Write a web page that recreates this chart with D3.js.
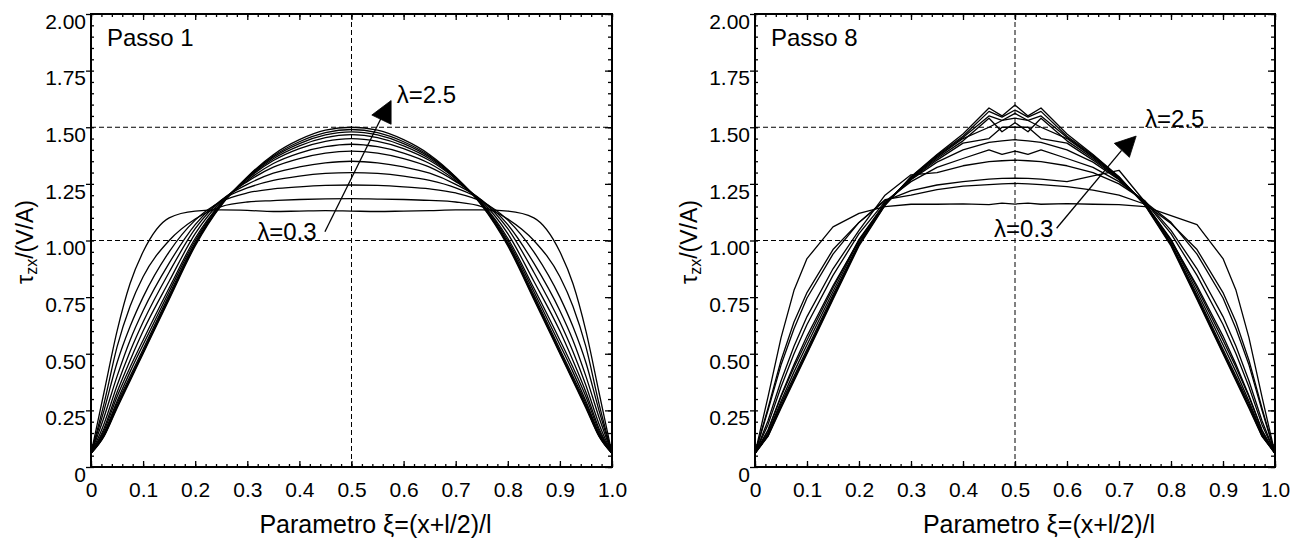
<!DOCTYPE html>
<html>
<head>
<meta charset="utf-8">
<script src="https://cdn.jsdelivr.net/npm/d3@7"></script>
<style>
html,body{margin:0;padding:0;background:#fff;}
svg{display:block;font-family:"Liberation Sans",Arial,Helvetica,sans-serif;}
</style>
</head>
<body>
<svg id="chart" width="1292" height="541"></svg>
<script>
// ---------------- DATA ----------------
const lambdas = [0.3, 0.5, 0.7, 0.9, 1.1, 1.3, 1.5, 1.7, 1.9, 2.1, 2.3, 2.5];

const xTickValues = [0, 0.1, 0.2, 0.3, 0.4, 0.5, 0.6, 0.7, 0.8, 0.9, 1.0];
const xTickLabels = ["0", "0.1", "0.2", "0.3", "0.4", "0.5", "0.6", "0.7", "0.8", "0.9", "1.0"];
const yTickValues = [0, 0.25, 0.5, 0.75, 1.0, 1.25, 1.5, 1.75, 2.0];
const yTickLabels = ["0", "0.25", "0.50", "0.75", "1.00", "1.25", "1.50", "1.75", "2.00"];

// Passo 1: positions xi along the beam
const xiPasso1 = [0, 0.025, 0.05, 0.075, 0.1, 0.15, 0.2, 0.25, 0.3, 0.35, 0.4, 0.45, 0.5,
                  0.55, 0.6, 0.65, 0.7, 0.75, 0.8, 0.85, 0.9, 0.925, 0.95, 0.975, 1];

const p1_l03 = [0.06,0.33,0.60,0.81,0.95,1.10,1.13,1.135,1.133,1.128,1.13,1.132,1.13,1.128,1.13,1.132,1.135,1.135,1.13,1.10,0.95,0.81,0.60,0.33,0.06];
const p1_l05 = [0.06,0.28,0.53,0.71,0.84,1.00,1.095,1.15,1.17,1.176,1.181,1.184,1.185,1.183,1.181,1.177,1.17,1.15,1.095,1.00,0.84,0.71,0.53,0.28,0.06];
const p1_l07 = [0.06,0.25,0.46,0.62,0.75,0.95,1.09,1.172,1.21,1.228,1.237,1.243,1.245,1.243,1.237,1.228,1.21,1.172,1.09,0.95,0.75,0.62,0.46,0.25,0.06];
const p1_l09 = [0.06,0.22,0.40,0.56,0.69,0.90,1.07,1.178,1.232,1.265,1.284,1.296,1.30,1.296,1.284,1.265,1.232,1.178,1.07,0.90,0.69,0.56,0.40,0.22,0.06];
const p1_l11 = [0.06,0.19,0.36,0.51,0.64,0.86,1.052,1.178,1.248,1.297,1.325,1.343,1.35,1.343,1.325,1.297,1.248,1.178,1.052,0.86,0.64,0.51,0.36,0.19,0.06];
const p1_l13 = [0.06,0.17,0.33,0.47,0.60,0.82,1.03,1.173,1.26,1.324,1.362,1.386,1.395,1.386,1.362,1.324,1.26,1.173,1.03,0.82,0.60,0.47,0.33,0.17,0.06];
const p1_l15 = [0.06,0.16,0.31,0.44,0.56,0.79,1.01,1.166,1.265,1.34,1.386,1.414,1.425,1.414,1.386,1.34,1.265,1.166,1.01,0.79,0.56,0.44,0.31,0.16,0.06];
const p1_l17 = [0.06,0.15,0.29,0.42,0.54,0.775,1.00,1.165,1.272,1.353,1.406,1.438,1.45,1.438,1.406,1.353,1.272,1.165,1.00,0.775,0.54,0.42,0.29,0.15,0.06];
const p1_l19 = [0.06,0.145,0.28,0.40,0.52,0.76,0.99,1.16,1.274,1.361,1.418,1.454,1.467,1.454,1.418,1.361,1.274,1.16,0.99,0.76,0.52,0.40,0.28,0.145,0.06];
const p1_l21 = [0.06,0.14,0.27,0.39,0.51,0.75,0.985,1.158,1.277,1.368,1.428,1.466,1.48,1.466,1.428,1.368,1.277,1.158,0.985,0.75,0.51,0.39,0.27,0.14,0.06];
const p1_l23 = [0.06,0.137,0.265,0.385,0.505,0.745,0.982,1.157,1.279,1.373,1.436,1.476,1.49,1.476,1.436,1.373,1.279,1.157,0.982,0.745,0.505,0.385,0.265,0.137,0.06];
const p1_l25 = [0.06,0.135,0.26,0.38,0.50,0.74,0.976,1.155,1.281,1.379,1.445,1.487,1.50,1.487,1.445,1.379,1.281,1.155,0.976,0.74,0.50,0.38,0.26,0.135,0.06];

// Passo 8
const xiPasso8 = [0, 0.025, 0.05, 0.075, 0.1, 0.15, 0.2, 0.25, 0.3, 0.35, 0.4, 0.45, 0.475, 0.5,
                  0.525, 0.55, 0.6, 0.65, 0.7, 0.75, 0.8, 0.85, 0.9, 0.925, 0.95, 0.975, 1];

const p8_l03 = [0.06,0.31,0.57,0.78,0.92,1.06,1.12,1.15,1.16,1.16,1.162,1.158,1.165,1.161,1.165,1.16,1.163,1.16,1.158,1.15,1.11,1.07,0.92,0.78,0.57,0.31,0.06];
const p8_l05 = [0.06,0.26,0.47,0.64,0.77,0.96,1.08,1.18,1.20,1.225,1.24,1.247,1.25,1.252,1.25,1.247,1.238,1.222,1.20,1.16,1.075,0.96,0.77,0.64,0.47,0.26,0.06];
const p8_l07 = [0.06,0.25,0.45,0.61,0.746,0.94,1.08,1.175,1.22,1.245,1.26,1.271,1.274,1.275,1.274,1.271,1.26,1.285,1.31,1.17,1.08,0.94,0.746,0.61,0.45,0.25,0.06];
const p8_l09 = [0.06,0.204,0.38,0.533,0.664,0.875,1.045,1.20,1.29,1.30,1.33,1.348,1.352,1.355,1.352,1.348,1.33,1.30,1.25,1.175,1.045,0.875,0.664,0.533,0.38,0.204,0.06];
const p8_l11 = [0.06,0.187,0.353,0.50,0.629,0.846,1.03,1.172,1.26,1.323,1.362,1.40,1.38,1.395,1.38,1.40,1.362,1.323,1.26,1.172,1.03,0.846,0.629,0.50,0.353,0.187,0.06];
const p8_l13 = [0.06,0.163,0.315,0.452,0.578,0.80,1.0,1.162,1.268,1.346,1.40,1.433,1.44,1.445,1.44,1.433,1.40,1.346,1.268,1.162,1.0,0.80,0.578,0.452,0.315,0.163,0.06];
const p8_l15 = [0.06,0.16,0.31,0.44,0.56,0.79,1.005,1.165,1.27,1.355,1.43,1.45,1.50,1.50,1.50,1.45,1.43,1.355,1.27,1.165,1.005,0.79,0.56,0.44,0.31,0.16,0.06];
const p8_l17 = [0.06,0.15,0.29,0.42,0.54,0.775,1.0,1.164,1.274,1.362,1.44,1.54,1.48,1.52,1.48,1.54,1.44,1.362,1.274,1.164,1.0,0.775,0.54,0.42,0.29,0.15,0.06];
const p8_l19 = [0.06,0.145,0.28,0.40,0.52,0.76,0.99,1.16,1.277,1.368,1.45,1.50,1.53,1.54,1.53,1.50,1.45,1.368,1.277,1.16,0.99,0.76,0.52,0.40,0.28,0.145,0.06];
const p8_l21 = [0.06,0.14,0.27,0.39,0.51,0.75,0.985,1.158,1.279,1.372,1.455,1.55,1.53,1.561,1.53,1.55,1.455,1.372,1.279,1.158,0.985,0.75,0.51,0.39,0.27,0.14,0.06];
const p8_l23 = [0.06,0.137,0.265,0.385,0.505,0.745,0.982,1.157,1.28,1.376,1.46,1.57,1.545,1.576,1.545,1.57,1.46,1.376,1.28,1.157,0.982,0.745,0.505,0.385,0.265,0.137,0.06];
const p8_l25 = [0.06,0.135,0.26,0.38,0.50,0.74,0.976,1.155,1.282,1.38,1.47,1.585,1.55,1.598,1.55,1.585,1.47,1.38,1.282,1.155,0.976,0.74,0.50,0.38,0.26,0.135,0.06];

const passo1Series = [p1_l03,p1_l05,p1_l07,p1_l09,p1_l11,p1_l13,p1_l15,p1_l17,p1_l19,p1_l21,p1_l23,p1_l25];
const passo8Series = [p8_l03,p8_l05,p8_l07,p8_l09,p8_l11,p8_l13,p8_l15,p8_l17,p8_l19,p8_l21,p8_l23,p8_l25];

// reference (dashed) lines
const refHorizontal = [1.0, 1.5];
const refVertical = [0.5];

// annotation anchors (data units)
const annP1 = {
  hiText: [0.587, 1.608], loText: [0.433, 1.002],
  arrowLine: [[0.449, 1.039], [0.557, 1.541]],
  arrowHead: [[0.539, 1.554], [0.576, 1.618], [0.576, 1.513]]
};
const annP8 = {
  hiText: [0.75, 1.50], loText: [0.574, 1.015],
  arrowLine: [[0.580, 1.054], [0.705, 1.398]],
  arrowHead: [[0.733, 1.461], [0.691, 1.429], [0.720, 1.367]]
};

// ---------------- DRAWING ----------------
const FONT = '"Liberation Sans", Arial, Helvetica, sans-serif';
const svg = d3.select("#chart");
svg.append("rect").attr("width", 1292).attr("height", 541).attr("fill", "#fff");

const TOP = 14, BOTTOM = 467;

function drawPanel(cfg) {
  const x = d3.scaleLinear().domain([0, 1]).range([cfg.x0, cfg.x1]);
  const y = d3.scaleLinear().domain([0, 2]).range([BOTTOM, TOP]);
  const g = svg.append("g");

  const xMinor = d3.range(0, 51).map(i => i / 50);
  const yMinor = d3.range(0, 41).map(i => i / 20);

  // dashed reference lines
  g.selectAll("line.rh").data(refHorizontal).join("line")
    .attr("x1", x(0)).attr("x2", x(1))
    .attr("y1", d => y(d)).attr("y2", d => y(d))
    .attr("stroke", "#000").attr("stroke-width", 1).attr("stroke-dasharray", "5,3");
  g.selectAll("line.rv").data(refVertical).join("line")
    .attr("x1", d => x(d)).attr("x2", d => x(d))
    .attr("y1", y(0)).attr("y2", y(2))
    .attr("stroke", "#000").attr("stroke-width", 1).attr("stroke-dasharray", "5,3");

  // curves
  const line = d3.line()
    .x((d, i) => x(cfg.xi[i]))
    .y(d => y(d))
    .curve(cfg.curve);
  g.selectAll("path.curve").data(cfg.series).join("path")
    .attr("class", "curve")
    .attr("d", line)
    .attr("fill", "none")
    .attr("stroke", "#000")
    .attr("stroke-width", 1.3)
    .attr("stroke-linejoin", "round");

  // axes
  function styleAxis(sel) {
    sel.select(".domain").remove();
    sel.selectAll("line").attr("stroke", "#000").attr("stroke-width", 1.3);
    sel.attr("font-family", FONT).attr("font-size", 21);
    sel.selectAll("text").attr("fill", "#000");
  }
  // bottom
  g.append("g").attr("transform", `translate(0,${BOTTOM})`)
    .call(d3.axisBottom(x).tickValues(xMinor).tickSize(-3).tickFormat(""))
    .call(styleAxis);
  g.append("g").attr("transform", `translate(0,${BOTTOM})`)
    .call(d3.axisBottom(x).tickValues(xTickValues).tickSizeInner(-6).tickSizeOuter(0)
      .tickPadding(15).tickFormat((d, i) => xTickLabels[i]))
    .call(styleAxis);
  // top
  g.append("g").attr("transform", `translate(0,${TOP})`)
    .call(d3.axisTop(x).tickValues(xMinor).tickSize(-3).tickFormat(""))
    .call(styleAxis);
  g.append("g").attr("transform", `translate(0,${TOP})`)
    .call(d3.axisTop(x).tickValues(xTickValues).tickSize(-6).tickFormat(""))
    .call(styleAxis);
  // left
  g.append("g").attr("transform", `translate(${cfg.x0},0)`)
    .call(d3.axisLeft(y).tickValues(yMinor).tickSize(-3).tickFormat(""))
    .call(styleAxis);
  const la = g.append("g").attr("transform", `translate(${cfg.x0},0)`)
    .call(d3.axisLeft(y).tickValues(yTickValues).tickSizeInner(5).tickSizeOuter(0)
      .tickPadding(0).tickFormat((d, i) => yTickLabels[i]))
    .call(styleAxis);
  la.selectAll("text").attr("dy", "0.68em");
  // right
  g.append("g").attr("transform", `translate(${cfg.x1},0)`)
    .call(d3.axisRight(y).tickValues(yMinor).tickSize(-4).tickFormat(""))
    .call(styleAxis);
  g.append("g").attr("transform", `translate(${cfg.x1},0)`)
    .call(d3.axisRight(y).tickValues(yTickValues).tickSize(-7).tickFormat(""))
    .call(styleAxis);

  // frame
  g.append("rect")
    .attr("x", x(0)).attr("y", y(2))
    .attr("width", x(1) - x(0)).attr("height", y(0) - y(2))
    .attr("fill", "none").attr("stroke", "#000").attr("stroke-width", 2);

  // panel title
  g.append("text").attr("x", x(0) + 16).attr("y", TOP + 32)
    .attr("font-family", FONT).attr("font-size", 24).attr("fill", "#000")
    .text(cfg.title);

  // annotations
  const a = cfg.ann;
  g.append("line")
    .attr("x1", x(a.arrowLine[0][0])).attr("y1", y(a.arrowLine[0][1]))
    .attr("x2", x(a.arrowLine[1][0])).attr("y2", y(a.arrowLine[1][1]))
    .attr("stroke", "#000").attr("stroke-width", 1.3);
  g.append("polygon")
    .attr("points", a.arrowHead.map(p => `${x(p[0])},${y(p[1])}`).join(" "))
    .attr("fill", "#000").attr("stroke", "#000").attr("stroke-width", 0.8);
  g.append("text").attr("x", x(a.hiText[0])).attr("y", y(a.hiText[1]))
    .attr("font-family", FONT).attr("font-size", 24).attr("fill", "#000")
    .text("λ=2.5");
  g.append("text").attr("x", x(a.loText[0])).attr("y", y(a.loText[1]))
    .attr("text-anchor", "end")
    .attr("font-family", FONT).attr("font-size", 24).attr("fill", "#000")
    .text("λ=0.3");

  // x axis title
  g.append("text").attr("x", (cfg.x0 + cfg.x1) / 2 + 24).attr("y", 533)
    .attr("text-anchor", "middle")
    .attr("font-family", FONT).attr("font-size", 25).attr("fill", "#000")
    .text("Parametro ξ=(x+l/2)/l");

  // y axis title
  const yt = g.append("text")
    .attr("transform", `translate(${cfg.x0 - 58},242) rotate(-90)`)
    .attr("text-anchor", "middle")
    .attr("font-family", FONT).attr("font-size", 23).attr("fill", "#000");
  yt.append("tspan").text("τ");
  yt.append("tspan").attr("font-size", 16).attr("dy", 4).text("zx");
  yt.append("tspan").attr("dy", -4).text("/(V/A)");
}

drawPanel({ x0: 91, x1: 612, xi: xiPasso1, series: passo1Series,
            curve: d3.curveMonotoneX, title: "Passo 1", ann: annP1 });
drawPanel({ x0: 755, x1: 1275, xi: xiPasso8, series: passo8Series,
            curve: d3.curveLinear, title: "Passo 8", ann: annP8 });
</script>
</body>
</html>
